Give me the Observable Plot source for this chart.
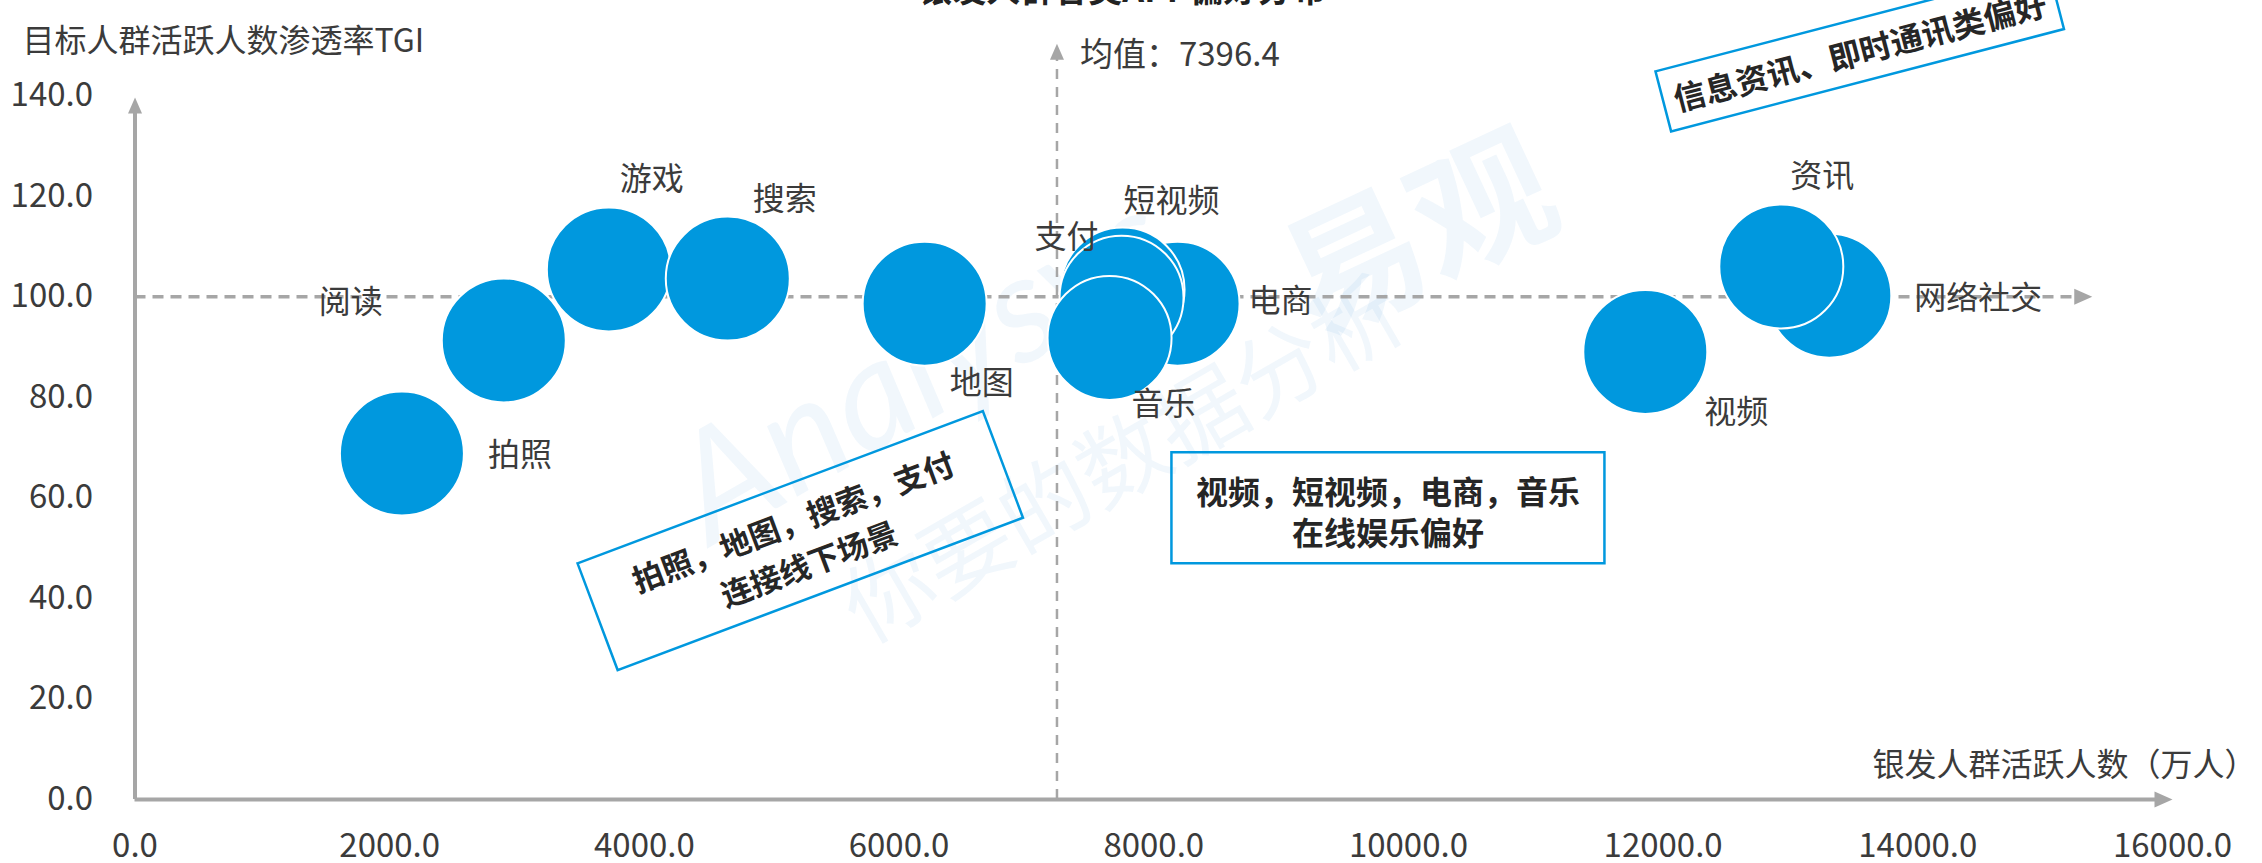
<!DOCTYPE html>
<html>
<head>
<meta charset="utf-8">
<script src="https://cdn.jsdelivr.net/npm/d3@7"></script>
<script src="https://cdn.jsdelivr.net/npm/@observablehq/plot@0.6"></script>
<style>
  html, body { margin: 0; padding: 0; background: #fff; overflow: hidden; }
  #chart svg { display: block; }
</style>
</head>
<body>
<div id="chart"></div>
<script>
// ---------- data ----------
const apps  = ["拍照", "阅读", "游戏", "搜索", "地图", "电商", "短视频", "支付", "音乐", "视频", "网络社交", "资讯"];
const users = [2096, 2896, 3721, 4655, 6201, 8187, 7755, 7747, 7653, 11860, 13305, 12928]; // 银发人群活跃人数（万人）
const tgi   = [68.8, 91.3, 105.4, 103.6, 98.6, 98.6, 101.4, 99.8, 91.8, 89.0, 100.2, 106.0]; // 目标人群活跃人数渗透率TGI

const xTicks = [0, 2000, 4000, 6000, 8000, 10000, 12000, 14000, 16000];
const yTicks = [0, 20, 40, 60, 80, 100, 120, 140];

const meanValue = 7396.4;     // 均值 label
const meanLinePos = 7240;     // where the reference draws the mean line
const tgiRef = 100;           // horizontal reference line
const tgiRefEnd = 15370;      // end of the horizontal dashed arrow
const xAxisEnd = 16000;
const yAxisEnd = 140;
const meanLineTop = 150.3;

const titleText = "银发人群各类APP偏好分布";
const xTitle = "银发人群活跃人数（万人）";
const yTitle = "目标人群活跃人数渗透率TGI";

const notes = ["信息资讯、即时通讯类偏好", "拍照，地图，搜索，支付\n连接线下场景", "视频，短视频，电商，音乐\n在线娱乐偏好"];
const noteX = [13544, 5224, 9839];
const noteY = [149, 51.5, 58];

// ---------- styles ----------
const labelOffsets = [[118, 2], [-153, -38], [43, -90], [57, -79], [57, 80], [103, -2], [49, -88], [-55, -60], [54, 67], [91, 61], [149, 3], [41, -90]];
const noteBoxes = [{w: 406, h: 62, a: -14.6, fs: 32, lh: 1.3, dy: 0}, {w: 433, h: 114, a: -20.6, fs: 31, lh: 1.45, dy: 0}, {w: 433, h: 111, a: 0, fs: 32, lh: 1.3, dy: 3.5}];

const BLUE = "#0098DE";
const GRAY = "#A6A6A6";
const TXT = "#3b3b3b";
const FONT = "'Noto Sans CJK SC', 'Noto Sans', sans-serif";

const table = apps.map((name, i) => ({name, users: users[i], tgi: tgi[i]}));
const noteTable = notes.map((text, i) => ({text, x: noteX[i], y: noteY[i]}));

// custom symbols
const arrowRight = {draw(ctx) { ctx.moveTo(0, 0); ctx.lineTo(-18, -8); ctx.lineTo(-18, 8); ctx.closePath(); }};
const arrowUp = {draw(ctx) { ctx.moveTo(0, 0); ctx.lineTo(-7, 16); ctx.lineTo(7, 16); ctx.closePath(); }};
function rotRect(w, h, deg) {
  return {draw(ctx) {
    const a = deg * Math.PI / 180, c = Math.cos(a), s = Math.sin(a);
    const pts = [[-w/2, -h/2], [w/2, -h/2], [w/2, h/2], [-w/2, h/2]].map(([x, y]) => [x*c - y*s, x*s + y*c]);
    ctx.moveTo(pts[0][0], pts[0][1]);
    for (let k = 1; k < 4; k++) ctx.lineTo(pts[k][0], pts[k][1]);
    ctx.closePath();
  }};
}

const marks = [];

// watermark
marks.push(Plot.text(["Analysys"], {x: 6189, y: 85.7, text: d => d, rotate: -30, fontSize: 150, fontStyle: "italic", fill: "#0A7FD0", fillOpacity: 0.06, fontFamily: "Lato, sans-serif"}));
marks.push(Plot.text(["易观"], {x: 10098, y: 111.5, text: d => d, rotate: -25, fontSize: 140, fontWeight: "bold", fill: "#0A7FD0", fillOpacity: 0.06}));
marks.push(Plot.text(["你要的数据分析"], {x: 7775, y: 67, text: d => d, rotate: -30, fontSize: 90, fill: "#0A7FD0", fillOpacity: 0.06}));

// title (cut off at top in the reference)
marks.push(Plot.text([titleText], {x: 7750, frameAnchor: "top", dy: -94, lineAnchor: "bottom", text: d => d, fontSize: 34, fontWeight: "bold", fill: "#222"}));

// axes lines + arrows
marks.push(Plot.ruleY([0], {x1: 0, x2: xAxisEnd - 100, stroke: GRAY, strokeWidth: 4}));
marks.push(Plot.dot([0], {x: () => xAxisEnd, y: 0, symbol: arrowRight, r: 10, fill: GRAY, stroke: null}));
marks.push(Plot.ruleX([0], {y1: 0, y2: yAxisEnd - 2, stroke: GRAY, strokeWidth: 4}));
marks.push(Plot.dot([0], {x: 0, y: () => yAxisEnd, dy: 2, symbol: arrowUp, r: 10, fill: GRAY, stroke: null}));

// reference dashed lines
marks.push(Plot.ruleY([tgiRef], {x1: 0, x2: tgiRefEnd - 100, stroke: GRAY, strokeWidth: 3.5, strokeDasharray: "11,7"}));
marks.push(Plot.dot([tgiRef], {x: () => tgiRefEnd, y: d => d, symbol: arrowRight, r: 10, fill: GRAY, stroke: null}));
marks.push(Plot.ruleX([meanLinePos], {y1: 0, y2: meanLineTop - 2, stroke: GRAY, strokeWidth: 2.5, strokeDasharray: "10,8"}));
marks.push(Plot.dot([meanLinePos], {x: d => d, y: () => meanLineTop, symbol: arrowUp, r: 10, fill: GRAY, stroke: null}));
marks.push(Plot.text([meanValue], {x: () => meanLinePos, y: 147.9, dx: 23, text: d => `均值：${d.toFixed(1)}`, textAnchor: "start", fontSize: 33, fill: TXT}));

// axis tick labels
marks.push(Plot.axisX({ticks: xTicks, tickFormat: d => d.toFixed(1), tickSize: 0, tickPadding: 34, fontSize: 33, fill: TXT, label: null}));
marks.push(Plot.axisY({ticks: yTicks, tickFormat: d => d.toFixed(1), tickSize: 0, tickPadding: 42, fontSize: 33, fill: TXT, label: null}));

// axis titles
marks.push(Plot.text([xTitle], {x: () => xAxisEnd, y: 0, dx: 84, dy: -34, textAnchor: "end", text: d => d, fontSize: 32, fill: TXT}));
marks.push(Plot.text([yTitle], {frameAnchor: "top-left", dx: -112.5, dy: -66, textAnchor: "start", text: d => d, fontSize: 32, fill: TXT}));

// bubbles
marks.push(Plot.dot(table, {x: "users", y: "tgi", r: 62, fill: BLUE, stroke: "#fff", strokeWidth: 2}));

// bubble labels
table.forEach((d, i) => {
  marks.push(Plot.text([d], {x: "users", y: "tgi", text: "name", dx: labelOffsets[i][0], dy: labelOffsets[i][1], fontSize: 32, fill: TXT}));
});

// annotation boxes
noteTable.forEach((d, i) => {
  const b = noteBoxes[i];
  marks.push(Plot.dot([d], {x: "x", y: "y", symbol: rotRect(b.w, b.h, b.a), r: 10, fill: "none", stroke: BLUE, strokeWidth: 2.5}));
  marks.push(Plot.text([d], {x: "x", y: "y", dy: b.dy, text: "text", rotate: b.a, fontSize: b.fs, fontWeight: "bold", lineHeight: b.lh, fill: "#262626"}));
});

const chart = Plot.plot({
  width: 2262,
  height: 863,
  marginLeft: 134.5,
  marginRight: 90,
  marginTop: 95,
  marginBottom: 64,
  x: {domain: [0, 16000]},
  y: {domain: [0, 140]},
  style: {fontFamily: FONT, background: "#fff", overflow: "visible"},
  marks
});
document.getElementById("chart").appendChild(chart);
</script>
</body>
</html>
